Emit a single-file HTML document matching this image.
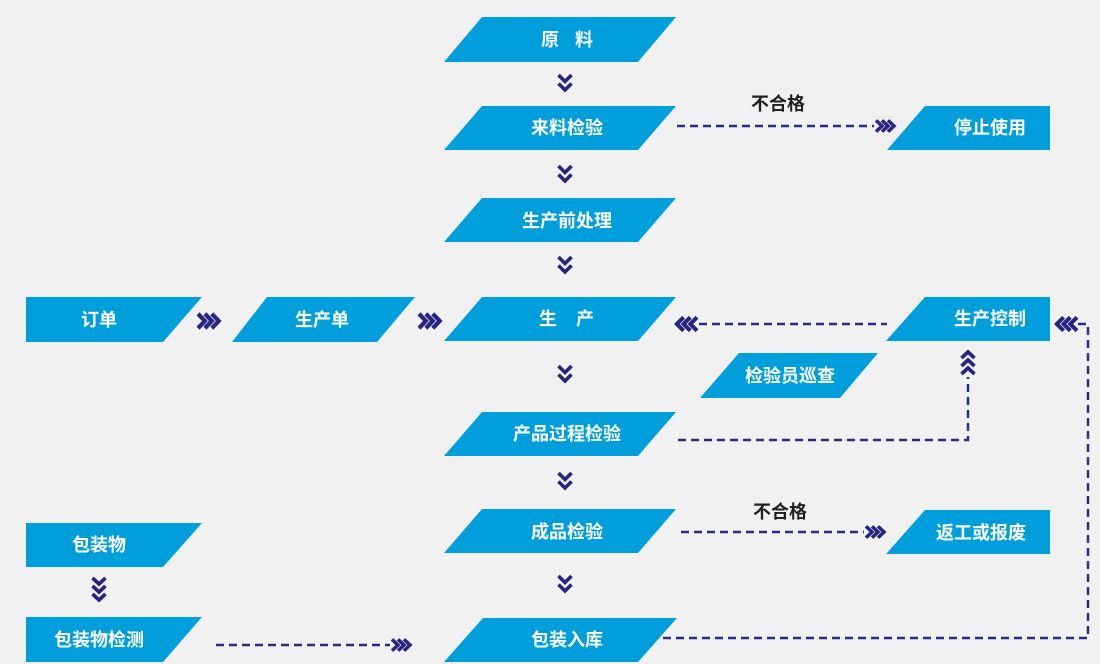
<!DOCTYPE html>
<html><head><meta charset="utf-8"><style>
html,body{margin:0;padding:0;background:#f1f1f1;}
svg{display:block;}
text{font-family:"Liberation Sans","Noto Sans CJK SC",sans-serif;font-weight:bold;font-size:18px;fill:#fff;text-anchor:middle;dominant-baseline:central;}
.dk{fill:#231f20;}
.box{fill:#009fdc;}
.dash{stroke:#2b2a86;stroke-width:2.5;stroke-dasharray:8 5;fill:none;}
.ch{stroke:#27257f;stroke-width:3.6;fill:none;stroke-linejoin:miter;stroke-miterlimit:10;}
</style></head><body>
<svg width="1100" height="664" viewBox="0 0 1100 664" xmlns="http://www.w3.org/2000/svg">
<defs>
<g id="r3" class="ch"><polyline points="0,-6 6,0 0,6"/><polyline points="6,-6 12,0 6,6"/><polyline points="12,-6 18,0 12,6"/></g>
<g id="d2" class="ch"><polyline points="-6.5,-7 0,-0.5 6.5,-7"/><polyline points="-6.5,1.5 0,8 6.5,1.5"/></g>
<g id="d3" class="ch"><polyline points="-6.5,-6 0,0 6.5,-6"/><polyline points="-6.5,2 0,8 6.5,2"/><polyline points="-6.5,10 0,16 6.5,10"/></g>
</defs>
<rect width="1100" height="664" fill="#f1f1f1"/>

<!-- dashed connectors -->
<line class="dash" x1="677" y1="126" x2="874" y2="126"/>
<line class="dash" x1="699" y1="324" x2="887" y2="324"/>
<polyline class="dash" points="678,440 968,440 968,377"/>
<line class="dash" x1="681" y1="532" x2="864" y2="532"/>
<polyline class="dash" points="663,638 1088,638 1088,324 1078,324"/>
<line class="dash" x1="216" y1="645" x2="390" y2="645"/>

<!-- boxes -->
<polygon class="box" points="482,17 676,17 638,62 444,62"/>
<polygon class="box" points="482,106 676,106 638,150 444,150"/>
<polygon class="box" points="482,198 676,198 638,242 444,242"/>
<polygon class="box" points="482,297 676,297 638,341 444,341"/>
<polygon class="box" points="482,412 676,412 638,456 444,456"/>
<polygon class="box" points="482,509 676,509 638,553 444,553"/>
<polygon class="box" points="483,618 677,618 638,662 444,662"/>
<polygon class="box" points="925,106 1050,106 1050,150 887,150"/>
<polygon class="box" points="925,297 1050,297 1050,341 886,341"/>
<polygon class="box" points="925,510 1050,510 1050,554 886,554"/>
<polygon class="box" points="739,353 878,353 840,398 700,398"/>
<polygon class="box" points="26,297 202,297 163,342 26,342"/>
<polygon class="box" points="267,297 415,297 377,342 232,342"/>
<polygon class="box" points="26,523 202,523 163,567 26,567"/>
<polygon class="box" points="26,617 202,617 163,662 26,662"/>

<!-- chevrons -->
<use href="#d2" transform="translate(565,82)"/>
<use href="#d2" transform="translate(565,173)"/>
<use href="#d2" transform="translate(565,264)"/>
<use href="#d2" transform="translate(565,373)"/>
<use href="#d2" transform="translate(565,480)"/>
<use href="#d2" transform="translate(565,583)"/>
<use href="#d3" transform="translate(99,584)"/>
<use href="#d3" transform="translate(968,368) scale(1,-1)"/>
<use href="#r3" transform="translate(198,321) scale(1.15,1.2)"/>
<use href="#r3" transform="translate(419,321) scale(1.15,1.2)"/>
<use href="#r3" transform="translate(876,126) scale(1,0.95)"/>
<use href="#r3" transform="translate(866,532) scale(1,0.95)"/>
<use href="#r3" transform="translate(392,645) scale(1,0.95)"/>
<use href="#r3" transform="translate(697,324) scale(-1.12,1.12)"/>
<use href="#r3" transform="translate(1077,324) scale(-1.12,1.12)"/>

<!-- labels -->
<text x="550" y="40">原</text><text x="584" y="40">料</text>
<text x="567" y="128">来料检验</text>
<text x="567" y="221">生产前处理</text>
<text x="548" y="319">生</text><text x="585" y="319">产</text>
<text x="567" y="434">产品过程检验</text>
<text x="567" y="532">成品检验</text>
<text x="567" y="640">包装入库</text>
<text x="990" y="128">停止使用</text>
<text x="990" y="319">生产控制</text>
<text x="981" y="533">返工或报废</text>
<text x="790" y="376">检验员巡查</text>
<text x="99" y="320">订单</text>
<text x="322" y="320">生产单</text>
<text x="99" y="545">包装物</text>
<text x="99" y="640">包装物检测</text>
<text class="dk" x="778" y="104">不合格</text>
<text class="dk" x="780" y="512">不合格</text>
</svg>
</body></html>
